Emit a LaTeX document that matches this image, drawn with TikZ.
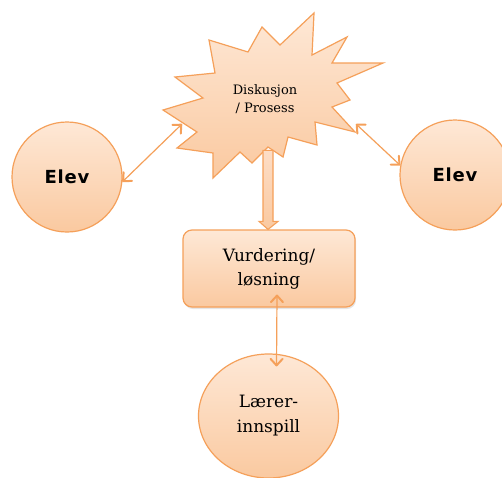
\documentclass[tikz,border=0pt]{standalone}
\usepackage{fontspec}
\setmainfont{DejaVu Serif}
\newfontfamily\elevfont[LetterSpace=4]{DejaVu Sans}
\usetikzlibrary{arrows.meta,shadows,shapes.geometric}

\definecolor{edge}{HTML}{F5A05A}
\definecolor{peachtop}{HTML}{FEE8D6}
\definecolor{peachbot}{HTML}{FAC9A0}
\definecolor{shaftfill}{HTML}{FDDDC6}

\begin{document}
\begin{tikzpicture}[x=1pt,y=-1pt,
  peach/.style={draw=edge, line width=1.2pt, top color=peachtop, bottom color=peachbot},
  person/.style={peach, circle, minimum size=110pt, inner sep=0pt,
    font=\elevfont\bfseries\fontsize{18}{18}\selectfont},
  barb/.tip={Straight Barb[length=6.5pt,width=12pt,line width=2pt,round]},
  link/.style={draw=edge, line width=1.2pt, barb-barb},
]
\useasboundingbox[fill=white] (0,0) rectangle (502,477);

% the two pupils
\node[person] (elevL) at (67,177) {Elev};
\node[person] (elevR) at (455,175) {Elev};

% discussion burst
\path[peach] (314,13) -- (312,55) -- (347,37) -- (332,63) -- (383,63)
  -- (337,83) -- (350,100) -- (332,107) -- (355,132) -- (315,122)
  -- (317,145) -- (288,137) -- (283,157) -- (268,147) -- (252,163)
  -- (240,152) -- (213,178) -- (213,153) -- (177,148) -- (197,132)
  -- (163,110) -- (203,98) -- (175,77) -- (215,73) -- (209,40)
  -- (248,52) -- (262,27) -- (280,45) -- cycle;
\node[align=center, font=\fontsize{13}{18}\selectfont] (disk) at (265,99)
  {Diskusjon\\/ Prosess};
\coordinate (burstL) at (182,124);
\coordinate (burstR) at (356,124);

% assessment box
\node[peach, rounded corners=9pt, minimum width=172pt, minimum height=77pt,
  align=center, font=\fontsize{17}{24}\selectfont,
  drop shadow={shadow xshift=1pt, shadow yshift=-2pt, opacity=0.2}]
  (box) at (269,268.5) {Vurdering/\\løsning};

% teacher input
\node[peach, ellipse, minimum width=140pt, minimum height=124pt, inner sep=0pt,
  align=center, font=\fontsize{17}{25}\selectfont]
  (lar) at (268.5,416) {Lærer-\\innspill};

% block arrow from the burst down to the box
\begin{scope}[shift={(box.north)}]
  \path[draw=edge, line width=1.1pt, top color=shaftfill, bottom color=peachbot]
    (-6,-79) -- (4,-79) -- (4,-8) -- (9,-8) -- (-1,0) -- (-10,-8)
    -- (-6,-8) -- cycle;
\end{scope}

% two-way links
\draw[link] (elevL.-5) -- (burstL);
\draw[link] (burstR) -- (elevR.170);
\draw[link] ([xshift=8pt,yshift=13pt]box.south) -- ([xshift=8pt,yshift=-13pt]lar.north);
\end{tikzpicture}
\end{document}
